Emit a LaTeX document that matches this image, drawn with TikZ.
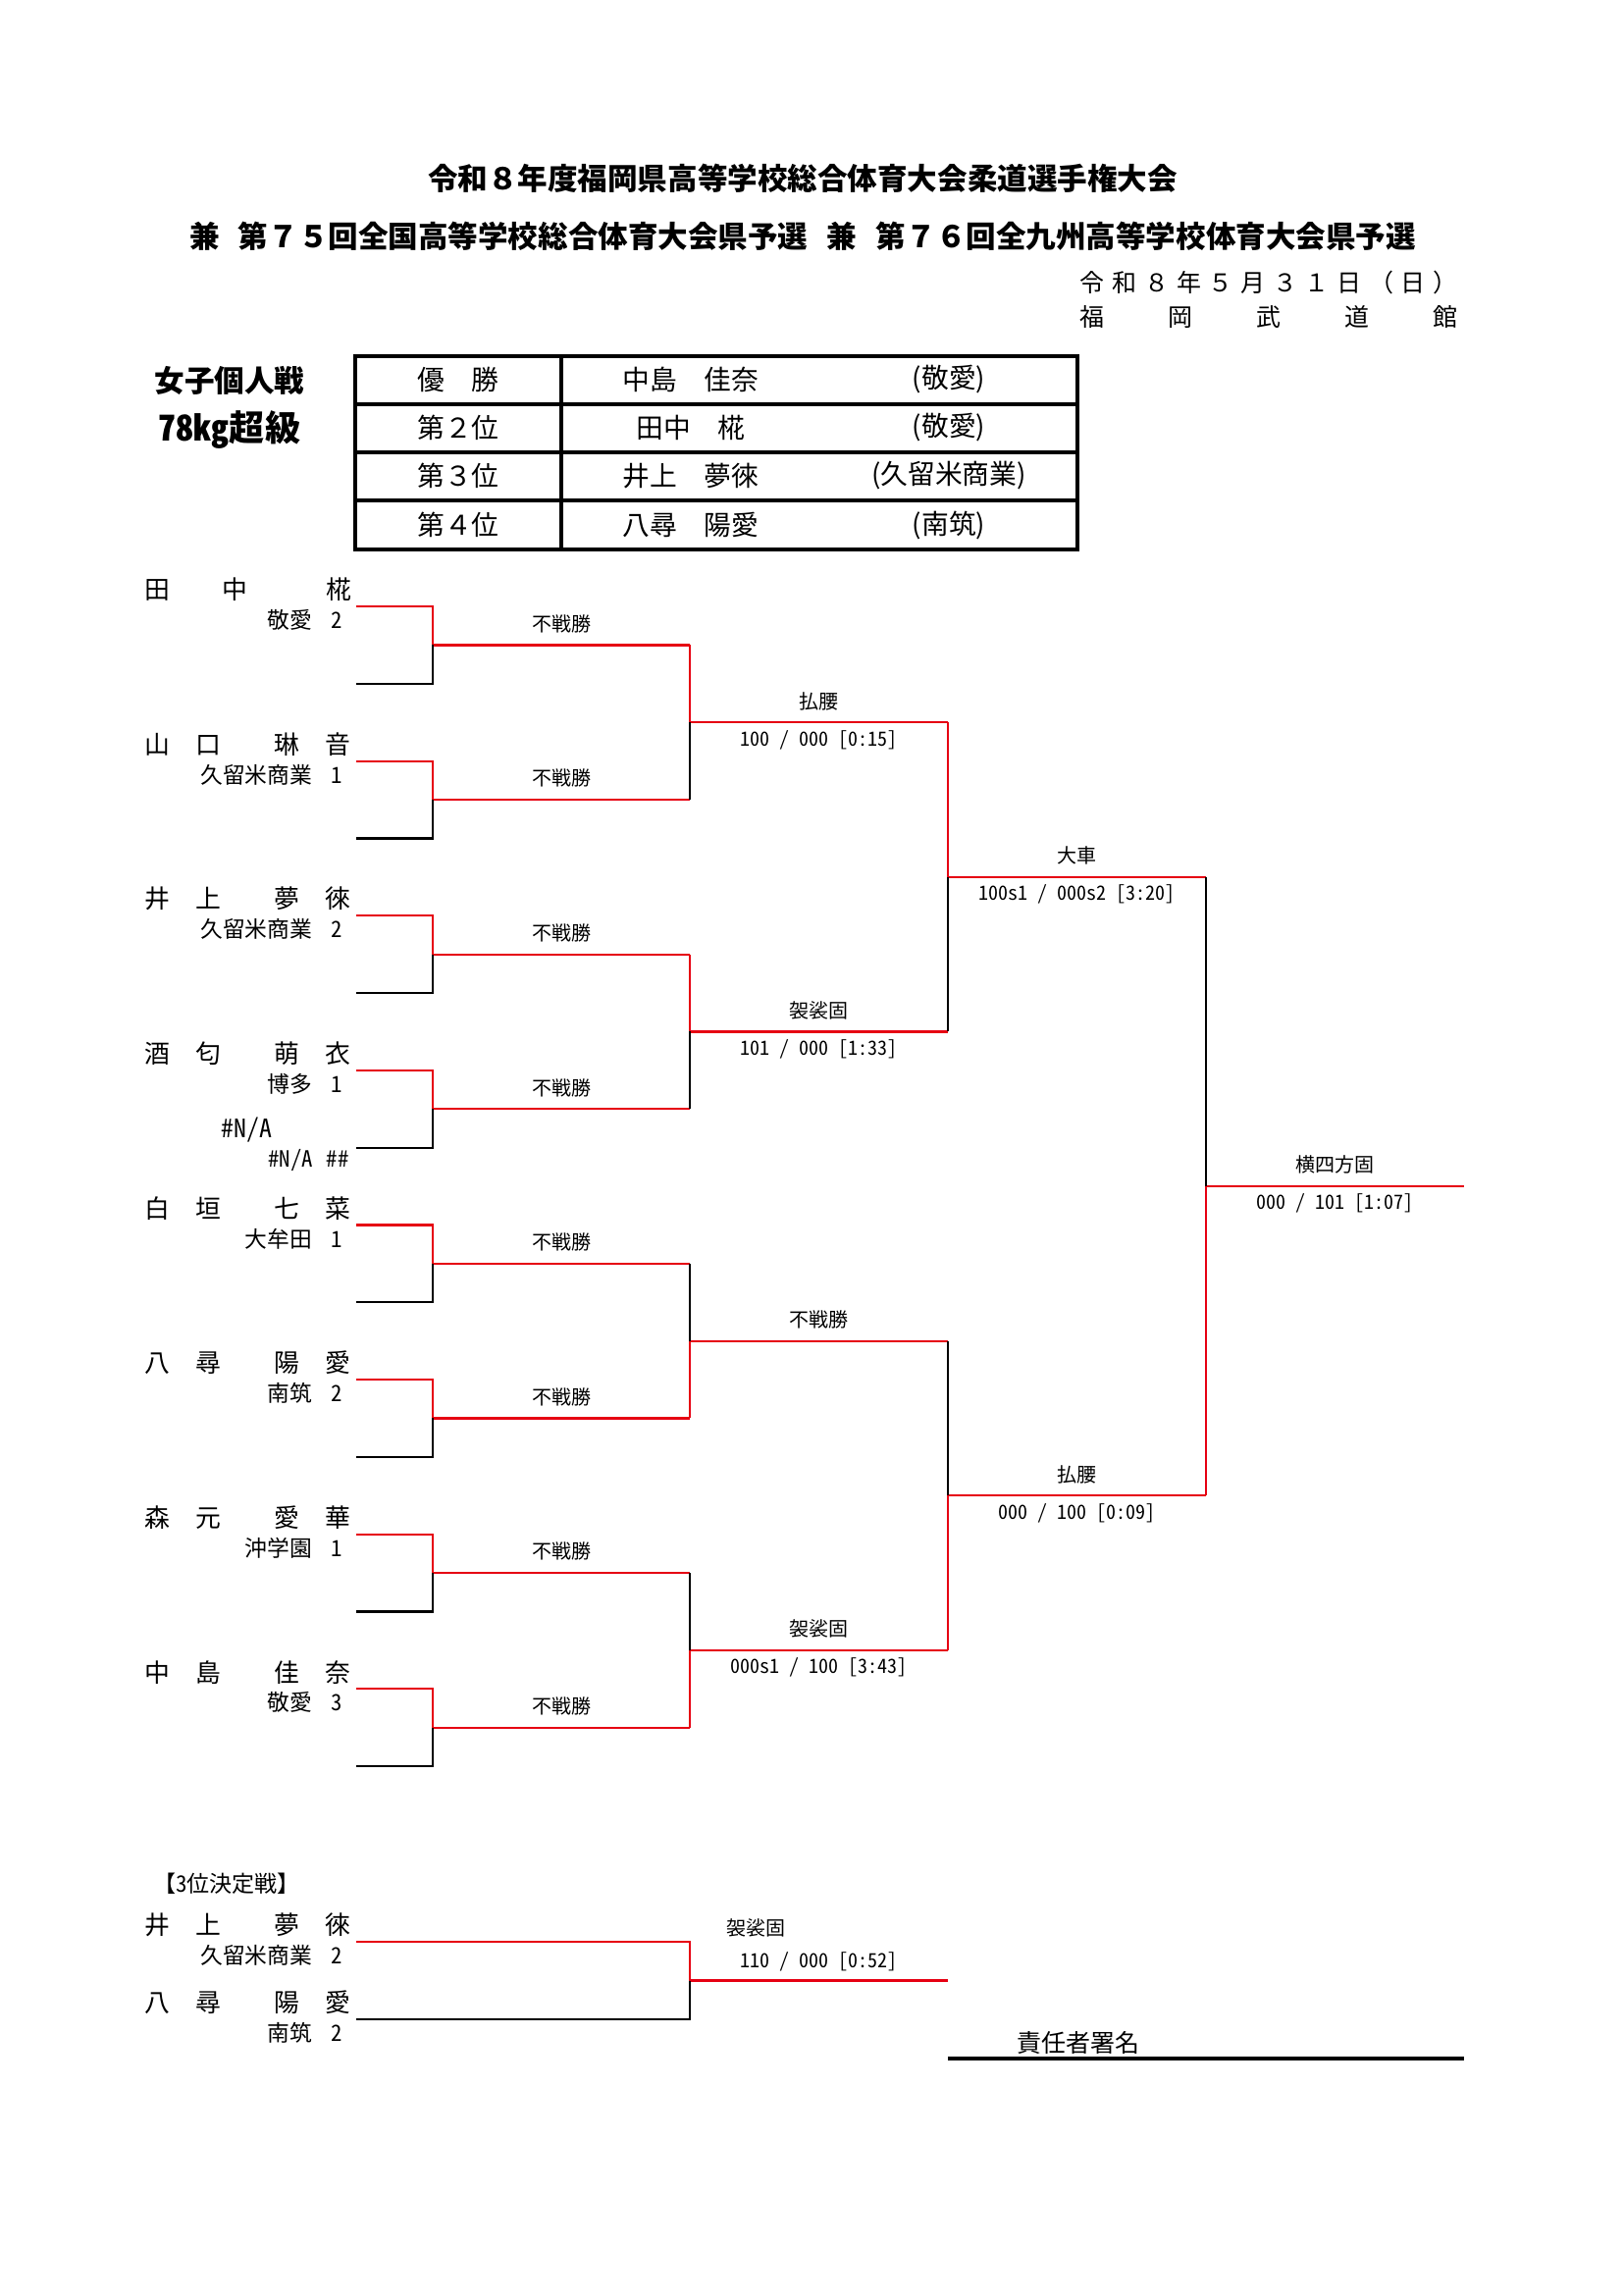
\documentclass[tikz,border=0pt]{standalone}
\usepackage{fontspec}
\setmainfont{Noto Sans CJK JP}
\newfontfamily\hwfont{Noto Sans CJK JP}[RawFeature=+hwid]
\usepackage{tikz}
\usetikzlibrary{calc}

\definecolor{winred}{RGB}{230,0,18}

% spaced player name: two surname chars, gap, two given-name chars
\newcommand{\fullname}[4]{#1\hspace{9.5pt}#2\hspace{19.5pt}#3\hspace{9.5pt}#4}
\newcommand{\dch}[1]{\makebox[11.77pt]{#1}}
\newcommand{\vch}[1]{\makebox[32.4pt]{#1}}

\begin{document}
\begin{tikzpicture}[x=0.36pt, y=-0.36pt,
    title/.style={font=\fontsize{11}{13}\selectfont\bfseries, inner sep=0pt},
    datetxt/.style={font=\fontsize{9}{11}\selectfont, inner sep=0pt, anchor=east},
    cell/.style={font=\fontsize{10}{12}\selectfont, inner sep=0pt},
    pname/.style={font=\fontsize{9.3}{11}\selectfont\hwfont, inner sep=0pt, anchor=west},
    school/.style={font=\fontsize{8.2}{10}\selectfont\hwfont, inner sep=0pt, anchor=east},
    waza/.style={font=\fontsize{7.2}{9}\selectfont\hwfont, inner sep=0pt, yshift=7.8pt},
    score/.style={font=\fontsize{7.2}{9}\selectfont\hwfont, inner sep=0pt, yshift=-6.4pt},
    win/.style={draw=winred, line width=0.8pt},
    lose/.style={draw=black, line width=0.8pt},
    tblrule/.style={draw=black, line width=1.1pt}
  ]
    \path[fill=white, use as bounding box] (0,0) rectangle (1654,2339);

    % Heading
    \node[title] (title1) at (818,182) {令和８年度福岡県高等学校総合体育大会柔道選手権大会};
    \node[title] (title2) at (818,241)
      {兼\hspace{7pt}第７５回全国高等学校総合体育大会県予選\hspace{7pt}兼\hspace{7pt}第７６回全九州高等学校体育大会県予選};
    \node[datetxt] (date) at (1490,288)
      {\dch{令}\dch{和}\dch{８}\dch{年}\dch{５}\dch{月}\dch{３}\dch{１}\dch{日}\dch{（}\dch{日}\dch{）}};
    \node[datetxt] (venue) at (1519,323) {\vch{福}\vch{岡}\vch{武}\vch{道}\vch{館}};

    % Event and results table
    \node[title] (event) at (234,388) {女子個人戦};
    \node[title, font=\fontsize{13}{15}\selectfont\hwfont\bfseries] (weight) at (234,438) {78kg超級};
    \draw[tblrule] (362,363) rectangle (1098,560);
    \draw[tblrule] (572,363) -- (572,560);
    \foreach \y in {412,461,510}
      \draw[tblrule] (362,\y) -- (1098,\y);
    \foreach \y/\rk/\nm/\sc [count=\i] in {387/優　勝/中島　佳奈/(敬愛),
        436/第２位/田中　椛/(敬愛), 485/第３位/井上　夢徠/(久留米商業), 535/第４位/八尋　陽愛/(南筑)} {
      \node[cell] (rank\i) at (467,\y) {\rk};
      \node[cell] (place\i) at (704,\y) {\nm};
      \node[cell] (team\i) at (967,\y) {\sc};
    }

    % Bracket corners
    \foreach \k in {0,...,15} {
      \coordinate (e\k) at (363,{618+78.8*\k});
      \coordinate (a\k) at (441,{618+78.8*\k});
    }
    \foreach \j in {0,...,7} {
      \coordinate (am\j) at (441,{618+78.8*(2*\j+0.5)});
      \coordinate (b\j) at (703,{618+78.8*(2*\j+0.5)});
    }
    \foreach \j in {0,...,3} {
      \coordinate (bm\j) at (703,{618+78.8*(4*\j+1.5)});
      \coordinate (c\j) at (966,{618+78.8*(4*\j+1.5)});
    }
    \foreach \j in {0,1} {
      \coordinate (cm\j) at (966,{618+78.8*(8*\j+3.5)});
      \coordinate (d\j) at (1229,{618+78.8*(8*\j+3.5)});
    }
    \coordinate (dm) at (1229,{618+78.8*7.5});
    \coordinate (fin) at (1492,{618+78.8*7.5});

    % Players
    \node[pname] (n0) at ($(e0)+(-216,-17)$) {田\hspace{19.2pt}中\hspace{28.9pt}椛};
    \node[school] (s0) at ($(e0)+(-14,14)$) {敬愛\hspace{6.8pt}2};
    \foreach \k/\sa/\sb/\ga/\gb/\sch/\num in {2/山/口/琳/音/久留米商業/1,
        4/井/上/夢/徠/久留米商業/2, 6/酒/匂/萌/衣/博多/1, 8/白/垣/七/菜/大牟田/1,
        10/八/尋/陽/愛/南筑/2, 12/森/元/愛/華/沖学園/1, 14/中/島/佳/奈/敬愛/3} {
      \node[pname] (n\k) at ($(e\k)+(-216,-17)$) {\fullname{\sa}{\sb}{\ga}{\gb}};
      \node[school] (s\k) at ($(e\k)+(-14,14)$) {\sch\hspace{6.8pt}\num};
    }
    \node[pname] (n7) at ($(e7)+(-138,-18)$) {\#N/A};
    \node[school] (s7) at ($(e7)+(-7,13)$) {\#N/A\hspace{5pt}\#\#};

    % Round 1 (all walkovers, upper player through)
    \foreach \j [evaluate=\j as \t using int(2*\j), evaluate=\j as \u using int(2*\j+1)] in {0,...,7} {
      \draw[win] (e\t) -- (a\t) -- (am\j) -- (b\j);
      \draw[lose] (e\u) -- (a\u) -- (am\j);
      \node[waza] (w1-\j) at ($(am\j)!.5!(b\j)$) {不戦勝};
    }

    % Round 2
    \draw[win] (b0) -- (bm0) -- (c0);
    \draw[lose] (b1) -- (bm0);
    \draw[win] (b2) -- (bm1) -- (c1);
    \draw[lose] (b3) -- (bm1);
    \draw[win] (b5) -- (bm2) -- (c2);
    \draw[lose] (b4) -- (bm2);
    \draw[win] (b7) -- (bm3) -- (c3);
    \draw[lose] (b6) -- (bm3);
    \node[waza] (w2-0) at ($(bm0)!.5!(c0)$) {払腰};
    \node[score] (p2-0) at ($(bm0)!.5!(c0)$) {100 / 000 [0:15]};
    \node[waza] (w2-1) at ($(bm1)!.5!(c1)$) {袈裟固};
    \node[score] (p2-1) at ($(bm1)!.5!(c1)$) {101 / 000 [1:33]};
    \node[waza] (w2-2) at ($(bm2)!.5!(c2)$) {不戦勝};
    \node[waza] (w2-3) at ($(bm3)!.5!(c3)$) {袈裟固};
    \node[score] (p2-3) at ($(bm3)!.5!(c3)$) {000s1 / 100 [3:43]};

    % Semi-finals
    \draw[win] (c0) -- (cm0) -- (d0);
    \draw[lose] (c1) -- (cm0);
    \draw[win] (c3) -- (cm1) -- (d1);
    \draw[lose] (c2) -- (cm1);
    \node[waza] (w3-0) at ($(cm0)!.5!(d0)$) {大車};
    \node[score] (p3-0) at ($(cm0)!.5!(d0)$) {100s1 / 000s2 [3:20]};
    \node[waza] (w3-1) at ($(cm1)!.5!(d1)$) {払腰};
    \node[score] (p3-1) at ($(cm1)!.5!(d1)$) {000 / 100 [0:09]};

    % Final
    \draw[win] (d1) -- (dm) -- (fin);
    \draw[lose] (d0) -- (dm);
    \node[waza] (w4) at ($(dm)!.5!(fin)$) {横四方固};
    \node[score] (p4) at ($(dm)!.5!(fin)$) {000 / 101 [1:07]};

    % Third-place bout
    \node[school, anchor=center, font=\fontsize{8.3}{10}\selectfont\hwfont] (third) at (231,1920) {【3位決定戦】};
    \coordinate (q0) at (363,1979);
    \coordinate (q1) at (363,2058);
    \coordinate (qt) at (703,1979);
    \coordinate (qb) at (703,2058);
    \coordinate (qm) at (703,2018.5);
    \coordinate (qend) at (966,2018.5);
    \node[pname] (t0) at ($(q0)+(-216,-17)$) {\fullname{井}{上}{夢}{徠}};
    \node[school] (u0) at ($(q0)+(-14,14)$) {久留米商業\hspace{6.8pt}2};
    \node[pname] (t1) at ($(q1)+(-216,-17)$) {\fullname{八}{尋}{陽}{愛}};
    \node[school] (u1) at ($(q1)+(-14,14)$) {南筑\hspace{6.8pt}2};
    \draw[win] (q0) -- (qt) -- (qm) -- (qend);
    \draw[lose] (q1) -- (qb) -- (qm);
    \node[waza, yshift=11.6pt] (wq) at ($(qm)!.5!(qend)+(-64,0)$) {袈裟固};
    \node[waza, yshift=-1pt] (pq) at ($(qm)!.5!(qend)$) {110 / 000 [0:52]};

    % Signature
    \coordinate (sigL) at (966,2098);
    \coordinate (sigR) at (1492,2098);
    \draw[tblrule] (sigL) -- (sigR);
    \node[cell, font=\fontsize{9}{11}\selectfont] (sign) at (1099,2082) {責任者署名};
\end{tikzpicture}
\end{document}
